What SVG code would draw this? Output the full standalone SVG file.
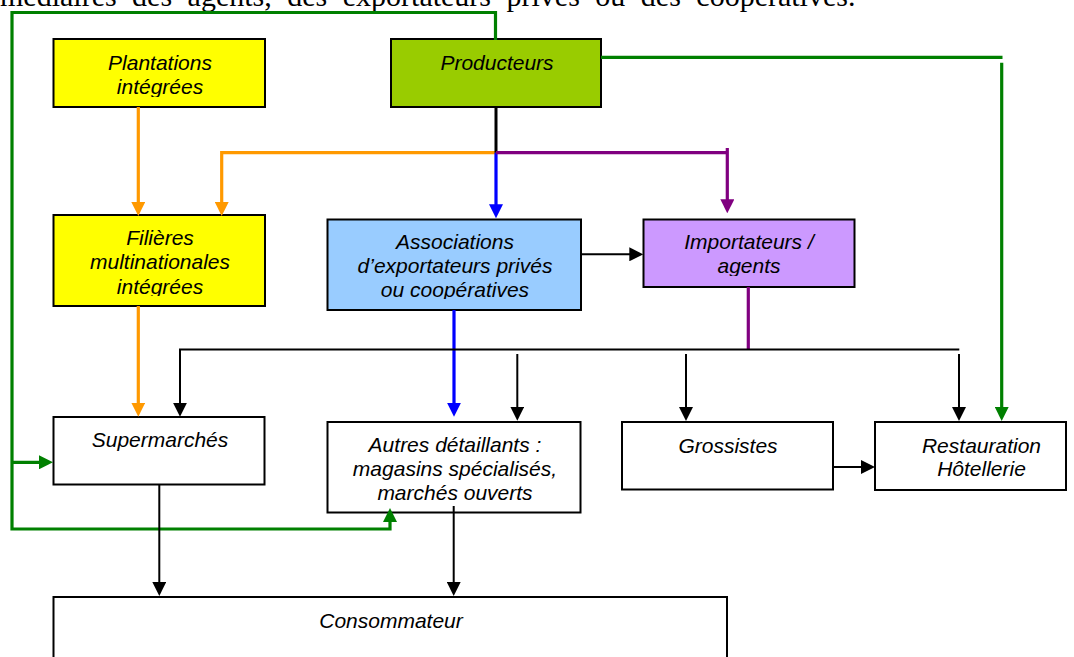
<svg xmlns="http://www.w3.org/2000/svg" width="1074" height="657" viewBox="0 0 1074 657">
  <style>
    .box { stroke: #000; stroke-width: 2; }
    .lbl { font-family: "Liberation Sans", Arial, sans-serif; font-style: italic; font-size: 21px; fill: #000; text-anchor: middle; }
    .body { font-family: "Liberation Serif", "Times New Roman", serif; font-size: 30px; fill: #000; }
    .c { fill: none; stroke-linejoin: miter; stroke-linecap: butt; }
    .k { stroke: #000; stroke-width: 2; }
    .k3 { stroke: #000; stroke-width: 3; }
    .g { stroke: #008000; stroke-width: 3.2; }
    .o { stroke: #FF9900; stroke-width: 3.2; }
    .b { stroke: #0000FF; stroke-width: 3.2; }
    .p { stroke: #800080; stroke-width: 3.2; }
  </style>
  <defs>
    <marker id="ah-k" viewBox="0 0 14 14" refX="7" refY="7" markerWidth="14" markerHeight="14" markerUnits="userSpaceOnUse" orient="auto"><path d="M0,0 L14,7 L0,14 Z" fill="#000"/></marker>
    <marker id="ah-g" viewBox="0 0 14 14" refX="7" refY="7" markerWidth="14" markerHeight="14" markerUnits="userSpaceOnUse" orient="auto"><path d="M0,0 L14,7 L0,14 Z" fill="#008000"/></marker>
    <marker id="ah-o" viewBox="0 0 14 14" refX="7" refY="7" markerWidth="14" markerHeight="14" markerUnits="userSpaceOnUse" orient="auto"><path d="M0,0 L14,7 L0,14 Z" fill="#FF9900"/></marker>
    <marker id="ah-b" viewBox="0 0 14 14" refX="7" refY="7" markerWidth="14" markerHeight="14" markerUnits="userSpaceOnUse" orient="auto"><path d="M0,0 L14,7 L0,14 Z" fill="#0000FF"/></marker>
    <marker id="ah-p" viewBox="0 0 14 14" refX="7" refY="7" markerWidth="14" markerHeight="14" markerUnits="userSpaceOnUse" orient="auto"><path d="M0,0 L14,7 L0,14 Z" fill="#800080"/></marker>
    <!-- text frames: labels are cut off slightly above each box's lower edge -->
    <clipPath id="cp-plant"><rect x="54" y="40" width="210" height="57"/></clipPath>
    <clipPath id="cp-fil"><rect x="54" y="216" width="210" height="80"/></clipPath>
    <clipPath id="cp-assoc"><rect x="328" y="220" width="252" height="79"/></clipPath>
    <clipPath id="cp-imp"><rect x="644" y="220" width="210" height="56"/></clipPath>
  </defs>

  <rect width="1074" height="657" fill="#fff"/>

  <!-- running paragraph line above the figure -->
  <text class="body" x="0" y="6" word-spacing="8">médiaires des agents, des exportateurs privés ou des coopératives.</text>

  <g id="node-plantations">
    <rect class="box" x="53.5" y="39" width="211.5" height="68" fill="#FFFF00"/>
    <text class="lbl" clip-path="url(#cp-plant)"><tspan x="160" y="70.3">Plantations</tspan><tspan x="160" y="94.3">intégrées</tspan></text>
  </g>
  <g id="node-producteurs">
    <rect class="box" x="391" y="39" width="210" height="68" fill="#99CC00"/>
    <text class="lbl" x="497" y="70">Producteurs</text>
  </g>
  <g id="node-filieres">
    <rect class="box" x="53.5" y="215" width="211.5" height="91" fill="#FFFF00"/>
    <text class="lbl" clip-path="url(#cp-fil)"><tspan x="160" y="245">Filières</tspan><tspan x="160" y="269">multinationales</tspan><tspan x="160" y="294.3">intégrées</tspan></text>
  </g>
  <g id="node-associations">
    <rect class="box" x="327.5" y="219.5" width="253.5" height="90.5" fill="#99CCFF"/>
    <text class="lbl" clip-path="url(#cp-assoc)"><tspan x="455" y="249.3">Associations</tspan><tspan x="455" y="272.7">d’exportateurs privés</tspan><tspan x="455" y="297.3">ou coopératives</tspan></text>
  </g>
  <g id="node-importateurs">
    <rect class="box" x="643.5" y="219.5" width="211" height="67.5" fill="#CC99FF"/>
    <text class="lbl" clip-path="url(#cp-imp)"><tspan x="749" y="249.3">Importateurs /</tspan><tspan x="749" y="273.3">agents</tspan></text>
  </g>
  <g id="node-supermarches">
    <rect class="box" x="53.5" y="417" width="211" height="67.5" fill="#fff"/>
    <text class="lbl" x="160" y="446.7">Supermarchés</text>
  </g>
  <g id="node-autres">
    <rect class="box" x="327.5" y="422" width="253" height="90.5" fill="#fff"/>
    <text class="lbl"><tspan x="455" y="452.3">Autres détaillants :</tspan><tspan x="455" y="476">magasins spécialisés,</tspan><tspan x="455" y="500">marchés ouverts</tspan></text>
  </g>
  <g id="node-grossistes">
    <rect class="box" x="622" y="422" width="211" height="67.5" fill="#fff"/>
    <text class="lbl" x="728" y="452.7">Grossistes</text>
  </g>
  <g id="node-restauration">
    <rect class="box" x="875" y="422" width="191" height="68" fill="#fff"/>
    <text class="lbl"><tspan x="981.5" y="452.7">Restauration</tspan><tspan x="981.5" y="476">Hôtellerie</tspan></text>
  </g>
  <g id="node-consommateur">
    <rect class="box" x="53.5" y="597" width="673.5" height="90" fill="#fff"/>
    <text class="lbl" x="391" y="628">Consommateur</text>
  </g>

  <g id="connectors">
    <!-- green: direct sales from producers -->
    <path class="c g" d="M495.5,40 V12.5 H12 V529 H390 V515" marker-end="url(#ah-g)"/>
    <path class="c g" d="M12,462.3 H46" marker-end="url(#ah-g)"/>
    <path class="c g" d="M601,57.3 H1002.5"/>
    <path class="c g" d="M1001.7,62.7 V414" marker-end="url(#ah-g)"/>

    <!-- orange: integrated channels -->
    <path class="c o" d="M138.3,107 V209" marker-end="url(#ah-o)"/>
    <path class="c o" d="M496,152.7 H221.7 V209" marker-end="url(#ah-o)"/>
    <path class="c o" d="M138.3,306 V409.7" marker-end="url(#ah-o)"/>

    <!-- producers' trunk and its branches -->
    <path class="c k3" d="M496,107 V152.7"/>
    <path class="c b" d="M496,152.7 V211.3" marker-end="url(#ah-b)"/>
    <path class="c p" d="M496,152.7 H727.3"/>
    <path class="c p" d="M727.3,148 V206.3" marker-end="url(#ah-p)"/>

    <!-- exporters / importers -->
    <path class="c b" d="M454,310 V409.7" marker-end="url(#ah-b)"/>
    <path class="c k" d="M581,254.3 H636.3" marker-end="url(#ah-k)"/>
    <path class="c p" d="M748.3,287 V349.5"/>

    <!-- distribution bus -->
    <path class="c k" d="M959.3,349.5 H180 V409.7" marker-end="url(#ah-k)"/>
    <path class="c k" d="M517.3,354 V413.7" marker-end="url(#ah-k)"/>
    <path class="c k" d="M686,354 V414" marker-end="url(#ah-k)"/>
    <path class="c k" d="M959,354 V414" marker-end="url(#ah-k)"/>
    <path class="c k" d="M833,467 H868" marker-end="url(#ah-k)"/>

    <!-- retail to consumer -->
    <path class="c k" d="M159.3,484.5 V589" marker-end="url(#ah-k)"/>
    <path class="c k" d="M453.7,506 V589" marker-end="url(#ah-k)"/>
  </g>
</svg>
